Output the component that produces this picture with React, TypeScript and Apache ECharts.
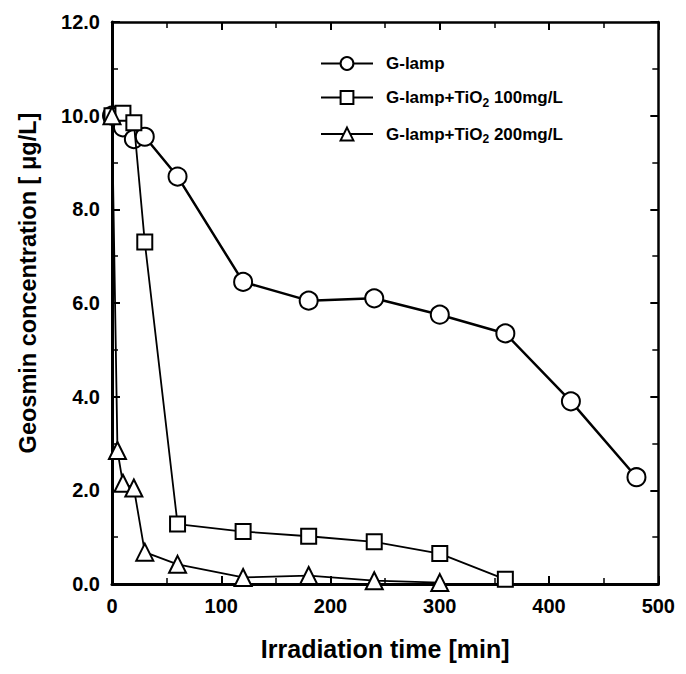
import React, { useEffect, useRef } from "react";
import * as echarts from "echarts";

const lampX = [0, 10, 20, 30, 60, 120, 180, 240, 300, 360, 420, 480];
const lampY = [10.0, 9.75, 9.5, 9.55, 8.7, 6.45, 6.05, 6.1, 5.75, 5.35, 3.9, 2.28];

const tio100X = [0, 10, 20, 30, 60, 120, 180, 240, 300, 360];
const tio100Y = [10.0, 10.05, 9.85, 7.3, 1.28, 1.12, 1.02, 0.9, 0.65, 0.1];

const tio200X = [0, 5, 10, 20, 30, 60, 120, 180, 240, 300];
const tio200Y = [10.0, 2.85, 2.15, 2.05, 0.68, 0.42, 0.14, 0.18, 0.07, 0.03];

const seriesNames = ["G-lamp", "G-lamp+TiO2 100mg/L", "G-lamp+TiO2 200mg/L"];
const xTicks = [0, 100, 200, 300, 400, 500];
const yTicks = [0, 2, 4, 6, 8, 10, 12];

const FONT = "'Liberation Sans', Arial, sans-serif";

export default function App() {
  const ref = useRef<HTMLDivElement>(null);
  useEffect(() => {
    if (!ref.current) return;
    const chart = echarts.init(ref.current, null, { renderer: "svg" });
    const pair = (xs: number[], ys: number[]) => xs.map((x, i) => [x, ys[i]]);
    const mk = {
      color: "#fff",
      borderColor: "#000",
      borderWidth: 2,
    };
    const axisCommon = {
      axisLine: { show: true, onZero: false, lineStyle: { color: "#000", width: 3 } },
      axisTick: { show: true, inside: true, length: 8, lineStyle: { color: "#000", width: 2 } },
      minorTick: { show: true, splitNumber: 2, length: 6, lineStyle: { color: "#000", width: 1.5 } },
      splitLine: { show: false },
    };
    const secondaryLine = { show: true, onZero: false, lineStyle: { color: "#000", width: 2.5 } };
    chart.setOption({
      animation: false,
      backgroundColor: "#fff",
      grid: { left: 104, right: 15, top: 14, bottom: 81 },
      legend: {
        orient: "vertical",
        left: 307,
        top: 42,
        itemWidth: 52,
        itemHeight: 16,
        itemGap: 17,
        data: seriesNames,
        formatter: (name: string) => {
          if (name === seriesNames[0]) return "{a|G-lamp}";
          const rest = name.split("TiO2")[1];
          return "{a|G-lamp+TiO}{s|2}{a|" + rest + "}";
        },
        textStyle: {
          padding: [0, 0, 0, 8],
          rich: {
            a: { fontFamily: FONT, fontSize: 17, fontWeight: "bold", color: "#000" },
            s: { fontFamily: FONT, fontSize: 12, fontWeight: "bold", color: "#000", padding: [10, 0, 0, 0] },
          },
        },
      },
      xAxis: [
        {
          type: "value",
          min: 0,
          max: 500,
          interval: 100,
          position: "bottom",
          name: "Irradiation time [min]",
          nameLocation: "middle",
          nameGap: 52,
          nameTextStyle: { fontFamily: FONT, fontSize: 25, fontWeight: "bold", color: "#000" },
          axisLabel: {
            fontFamily: FONT,
            fontSize: 20,
            fontWeight: "bold",
            color: "#000",
            margin: 12,
            formatter: (v: number) => (xTicks.includes(v) ? String(v) : ""),
          },
          ...axisCommon,
        },
        {
          type: "value",
          min: 0,
          max: 500,
          interval: 100,
          position: "top",
          axisLabel: { show: false },
          ...axisCommon,
          axisLine: secondaryLine,
        },
      ],
      yAxis: [
        {
          type: "value",
          min: 0,
          max: 12,
          interval: 2,
          position: "left",
          name: "Geosmin concentration [ μg/L]",
          nameLocation: "middle",
          nameRotate: 90,
          nameGap: 72,
          nameTextStyle: {
            fontFamily: FONT,
            fontSize: 23.5,
            fontWeight: "bold",
            color: "#000",
            padding: [0, 0, 0, 40],
          },
          axisLabel: {
            fontFamily: FONT,
            fontSize: 20,
            fontWeight: "bold",
            color: "#000",
            margin: 12,
            formatter: (v: number) => (yTicks.includes(v) ? v.toFixed(1) : ""),
          },
          ...axisCommon,
        },
        {
          type: "value",
          min: 0,
          max: 12,
          interval: 2,
          position: "right",
          axisLabel: { show: false },
          ...axisCommon,
          axisLine: secondaryLine,
        },
      ],
      series: [
        {
          name: seriesNames[0],
          type: "line",
          data: pair(lampX, lampY),
          symbol: "circle",
          symbolSize: 18,
          lineStyle: { color: "#000", width: 2.5 },
          itemStyle: mk,
          z: 2,
        },
        {
          name: seriesNames[1],
          type: "line",
          data: pair(tio100X, tio100Y),
          symbol: "rect",
          symbolSize: 15,
          lineStyle: { color: "#000", width: 1.8 },
          itemStyle: mk,
          z: 3,
        },
        {
          name: seriesNames[2],
          type: "line",
          data: pair(tio200X, tio200Y),
          symbol: "triangle",
          symbolSize: 17,
          lineStyle: { color: "#000", width: 1.8 },
          itemStyle: mk,
          z: 4,
        },
      ],
    });
    return () => chart.dispose();
  }, []);
  return <div ref={ref} style={{ width: 670, height: 658 }} />;
}
